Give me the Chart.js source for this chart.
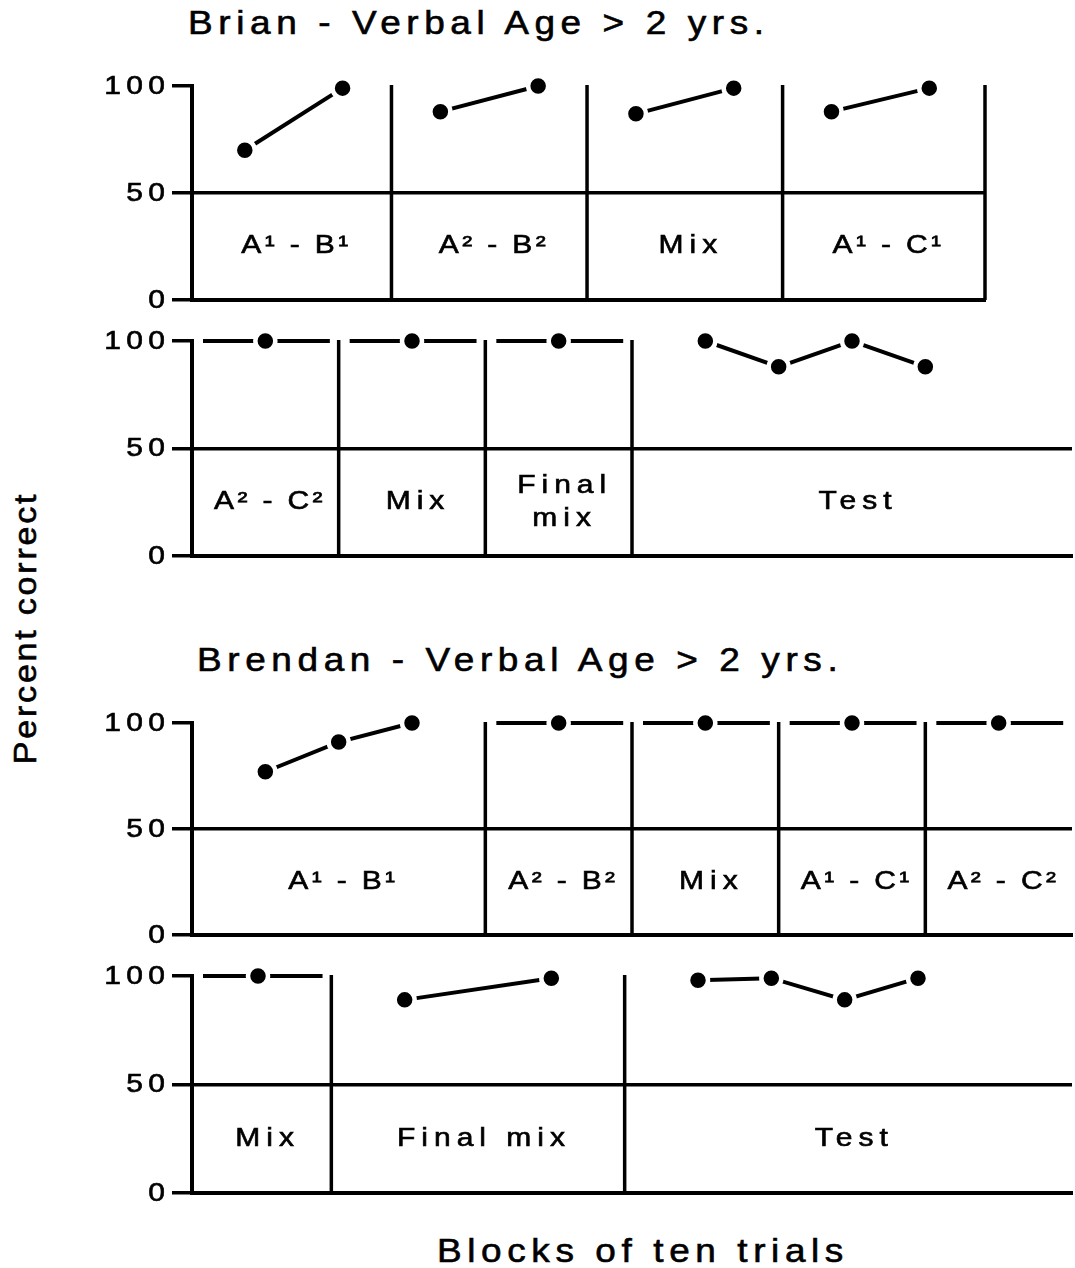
<!DOCTYPE html>
<html>
<head>
<meta charset="utf-8">
<script src="https://cdn.jsdelivr.net/npm/chart.js@4.4.1/dist/chart.umd.min.js"></script>
<style>
body { margin: 0; background: #fff; }
#page { position: relative; width: 1075px; height: 1268px; font-family: "Liberation Sans", Arial, sans-serif; color: #000; overflow: hidden; }
#page canvas { position: absolute; left: 0; }
.txt { position: absolute; font-size: 33px; line-height: 33px; letter-spacing: 5px; white-space: nowrap; -webkit-text-stroke: 0.6px #000; transform-origin: 0 0; }
</style>
</head>
<body>
<div id="page">
  <div class="txt" style="left:188px; top:6px; transform: scaleX(1.12)">Brian - Verbal Age &gt; 2 yrs.</div>
  <div class="txt" style="left:197px; top:643px; transform: scaleX(1.12)">Brendan - Verbal Age &gt; 2 yrs.</div>
  <div class="txt" style="left:25px; top:628px; font-size:31px; letter-spacing:2.5px; transform-origin: 50% 50%; transform: translate(-50%, -50%) rotate(-90deg) scaleX(1.1)">Percent correct</div>
  <div class="txt" style="left:643px; top:1250px; transform-origin: 50% 50%; transform: translate(-50%, -50%) scaleX(1.12)">Blocks of ten trials</div>

  <canvas id="brianTop" width="1075" height="274" style="top:56px"></canvas>
  <canvas id="brianBottom" width="1075" height="275" style="top:311px"></canvas>
  <canvas id="brendanTop" width="1075" height="272" style="top:693px"></canvas>
  <canvas id="brendanBottom" width="1075" height="277" style="top:946px"></canvas>
</div>

<script>
// y ticks (percent correct)
var yTicks = [0, 50, 100];

// Brian, first row of phases (x = block number)
var brianTopLabels = ['A¹ - B¹', 'A² - B²', 'Mix', 'A¹ - C¹'];
var brianTopEdges = [0.46, 2.5, 4.5, 6.5, 8.57];
var brianTopBlocks = [[1, 2], [3, 4], [5, 6], [7, 8]];
var brianTopValues = [[70, 99], [88, 100], [87, 99], [88, 99]];

// Brian, second row
var brianBottomLabels = ['A² - C²', 'Mix', 'Final\nmix', 'Test'];
var brianBottomEdges = [0, 2, 4, 6, 12];
var brianBottomBlocks = [[1], [3], [5], [7, 8, 9, 10]];
var brianBottomValues = [[100], [100], [100], [100, 88, 100, 88]];

// Brendan, first row
var brendanTopLabels = ['A¹ - B¹', 'A² - B²', 'Mix', 'A¹ - C¹', 'A² - C²'];
var brendanTopEdges = [0, 4, 6, 8, 10, 12];
var brendanTopBlocks = [[1, 2, 3], [5], [7], [9], [11]];
var brendanTopValues = [[77, 91, 100], [100], [100], [100], [100]];

// Brendan, second row
var brendanBottomLabels = ['Mix', 'Final mix', 'Test'];
var brendanBottomEdges = [0.1, 2, 6, 12.1];
var brendanBottomBlocks = [[1], [3, 5], [7, 8, 9, 10]];
var brendanBottomValues = [[100], [89, 99], [98, 99, 89, 99]];

var FONT = '"Liberation Sans", Arial, sans-serif';
var LABEL_LEVEL = 25;
var STRETCH = 1.2;   // the figure's lettering is wide

// draws one piece of wide, spaced text
function wideText(ctx, t, x, y, align, spacing) {
    ctx.save();
    ctx.letterSpacing = spacing + 'px';
    ctx.textAlign = align;
    ctx.textBaseline = 'middle';
    var shift = align === 'center' ? spacing / 2 : (align === 'right' ? spacing : 0);
    ctx.translate(x + shift * STRETCH, y);
    ctx.scale(STRETCH, 1);
    ctx.fillText(t, 0, 0);
    ctx.lineWidth = 0.6;
    ctx.strokeText(t, 0, 0);
    ctx.restore();
}

// phase dividers, phase names and y tick labels
var framePlugin = {
    id: 'frame',
    beforeDatasetsDraw: function(chart, args, opts) {
        var ctx = chart.ctx;
        var x = chart.scales.x, y = chart.scales.y;
        ctx.save();
        ctx.strokeStyle = '#000';
        ctx.lineWidth = 3.5;
        opts.edges.forEach(function(e, i) {
            if (i === 0) return;
            if (i === opts.edges.length - 1 && !opts.closeRight) return;
            var px = x.getPixelForValue(e);
            ctx.beginPath();
            ctx.moveTo(px, y.getPixelForValue(0));
            ctx.lineTo(px, y.getPixelForValue(100) - 1);
            ctx.stroke();
        });
        ctx.font = '25px ' + FONT;
        ctx.fillStyle = '#000';
        opts.labels.forEach(function(lab, i) {
            var cx = (x.getPixelForValue(opts.edges[i]) + x.getPixelForValue(opts.edges[i + 1])) / 2 + 3;
            var lines = lab.split('\n');
            lines.forEach(function(t, j) {
                var cy = y.getPixelForValue(LABEL_LEVEL) + (j - (lines.length - 1) / 2) * 33;
                var sp = /[¹²]/.test(t) ? 2.8 : 5;
                wideText(ctx, t, cx, cy, 'center', sp);
            });
        });
        yTicks.forEach(function(v) {
            wideText(ctx, String(v), chart.chartArea.left - 27, y.getPixelForValue(v) + 1, 'right', 4.5);
        });
        ctx.restore();
    }
};

function buildDatasets(edges, blocks, values) {
    var sets = [];
    blocks.forEach(function(b, i) {
        var pts;
        if (b.length === 1) {
            // single block: criterion line across the phase
            pts = [
                {x: edges[i] + 0.15, y: values[i][0], end: true},
                {x: b[0], y: values[i][0]},
                {x: edges[i + 1] - 0.12, y: values[i][0], end: true}
            ];
        } else {
            pts = b.map(function(v, k) { return {x: v, y: values[i][k]}; });
        }
        sets.push({
            data: pts,
            borderColor: '#000',
            borderWidth: 4,
            tension: 0,
            clip: false,
            pointRadius: function(c) { return c.raw && c.raw.end ? 0 : 10; },
            pointBackgroundColor: '#000',
            pointBorderColor: '#fff',
            pointBorderWidth: 4.5
        });
    });
    return sets;
}

function makePanel(id, labels, edges, blocks, values, right, closeRight) {
    var ctx = document.getElementById(id).getContext('2d');
    return new Chart(ctx, {
        type: 'line',
        data: { datasets: buildDatasets(edges, blocks, values) },
        options: {
            responsive: false,
            animation: false,
            events: [],
            layout: { autoPadding: false, padding: { top: 30, bottom: 30, left: 0, right: 1075 - right } },
            plugins: {
                legend: { display: false },
                tooltip: { enabled: false },
                frame: { labels: labels, edges: edges, closeRight: closeRight }
            },
            scales: {
                x: {
                    type: 'linear',
                    bounds: 'data',
                    min: edges[0],
                    max: edges[edges.length - 1],
                    ticks: { display: false },
                    grid: { display: false },
                    border: { display: true, color: '#000', width: 4 },
                    afterFit: function(s) { s.height = 0; }
                },
                y: {
                    min: 0,
                    max: 100,
                    afterBuildTicks: function(s) { s.ticks = yTicks.map(function(v) { return {value: v}; }); },
                    ticks: { display: false },
                    grid: {
                        color: function(c) { return c.tick && c.tick.value === 50 ? '#000' : 'rgba(0,0,0,0)'; },
                        lineWidth: 3.5,
                        tickLength: 20,
                        tickColor: '#000',
                        tickWidth: 3.5
                    },
                    border: { color: '#000', width: 4 },
                    afterFit: function(s) { s.width = 192; }
                }
            }
        },
        plugins: [framePlugin]
    });
}

makePanel('brianTop', brianTopLabels, brianTopEdges, brianTopBlocks, brianTopValues, 985, true);
makePanel('brianBottom', brianBottomLabels, brianBottomEdges, brianBottomBlocks, brianBottomValues, 1072, false);
makePanel('brendanTop', brendanTopLabels, brendanTopEdges, brendanTopBlocks, brendanTopValues, 1072, false);
makePanel('brendanBottom', brendanBottomLabels, brendanBottomEdges, brendanBottomBlocks, brendanBottomValues, 1072, false);
</script>
</body>
</html>
